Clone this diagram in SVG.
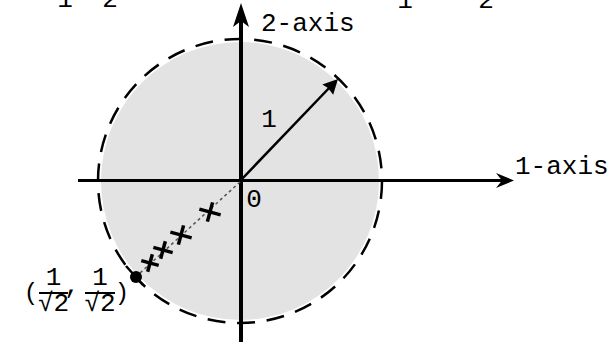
<svg xmlns="http://www.w3.org/2000/svg" width="612" height="342" viewBox="0 0 612 342">
<style>
text{font-family:"Liberation Mono","Courier New",monospace;fill:#000}
.t{font-size:26px}
.ax{stroke:#000;fill:none}
.cr{stroke:#000;stroke-width:3.5;stroke-linecap:butt}
</style>
<rect width="612" height="342" fill="#fff"/>
<g id="cut-text">
<text class="t" x="65" y="7" text-anchor="middle">1</text>
<text class="t" x="110" y="7" text-anchor="middle">2</text>
<text class="t" x="405" y="8" text-anchor="middle">1</text>
<text class="t" x="486" y="8" text-anchor="middle">2</text>
</g>
<g id="disk">
<circle cx="240" cy="181" r="139" fill="#e3e3e3"/>
<circle cx="240" cy="181" r="142" fill="none" stroke="#000" stroke-width="2.5" stroke-dasharray="18 11.7"/>
</g>
<g id="connectors">
<line class="ax" x1="78" y1="180.5" x2="505" y2="180.5" stroke-width="3"/>
<path d="M496,173 L514,180.5 L496,188 L502,180.5 Z" fill="#000"/>
<line class="ax" x1="241" y1="18" x2="241" y2="342" stroke-width="4"/>
<path d="M241,3 L249,27 L241,21 L233,27 Z" fill="#000"/>
<line class="ax" x1="241" y1="180" x2="331" y2="86" stroke-width="2.5"/>
<path d="M338,79 L333.2,94.8 L328,88 L322.3,84.5 Z" fill="#000"/>
<line x1="240" y1="182" x2="140" y2="273" stroke="#555" stroke-width="1.5" stroke-dasharray="3 3"/>
</g>
<g id="label-2axis"><text class="t" x="261" y="31">2-axis</text></g>
<g id="label-1axis"><text class="t" x="515" y="174">1-axis</text></g>
<g id="label-radius"><text class="t" x="269" y="127" text-anchor="middle">1</text></g>
<g id="label-origin"><text class="t" x="254" y="207" text-anchor="middle">0</text></g>
<g id="crosses">
<g transform="translate(210,212) rotate(15)"><line class="cr" x1="-11" y1="0" x2="11" y2="0"/><line class="cr" x1="0" y1="-10" x2="0" y2="10"/></g>
<g transform="translate(181,235) rotate(15)"><line class="cr" x1="-11" y1="0" x2="11" y2="0"/><line class="cr" x1="0" y1="-10" x2="0" y2="10"/></g>
<g transform="translate(163,250) rotate(15)"><line class="cr" x1="-10" y1="0" x2="10" y2="0"/><line class="cr" x1="0" y1="-9" x2="0" y2="9"/></g>
<g transform="translate(150,263) rotate(15)"><line class="cr" x1="-9" y1="0" x2="9" y2="0"/><line class="cr" x1="0" y1="-9" x2="0" y2="9"/></g>
</g>
<g id="point">
<line x1="126" y1="266" x2="143" y2="285" stroke="#000" stroke-width="2.5"/>
<circle cx="136" cy="277" r="6" fill="#000"/>
</g>
<g id="label-point">
<text x="31" y="300" style="font-size:24px" text-anchor="middle">(</text>
<text class="t" x="53.5" y="285" text-anchor="middle">1</text>
<line x1="39" y1="293" x2="68" y2="293" stroke="#000" stroke-width="2"/>
<text class="t" x="53.5" y="311" text-anchor="middle">√2</text>
<text class="t" x="72" y="293" text-anchor="middle">,</text>
<text class="t" x="100" y="285" text-anchor="middle">1</text>
<line x1="85" y1="293" x2="115" y2="293" stroke="#000" stroke-width="2"/>
<text class="t" x="100" y="311" text-anchor="middle">√2</text>
<text x="122" y="300" style="font-size:24px" text-anchor="middle">)</text>
</g>
</svg>
